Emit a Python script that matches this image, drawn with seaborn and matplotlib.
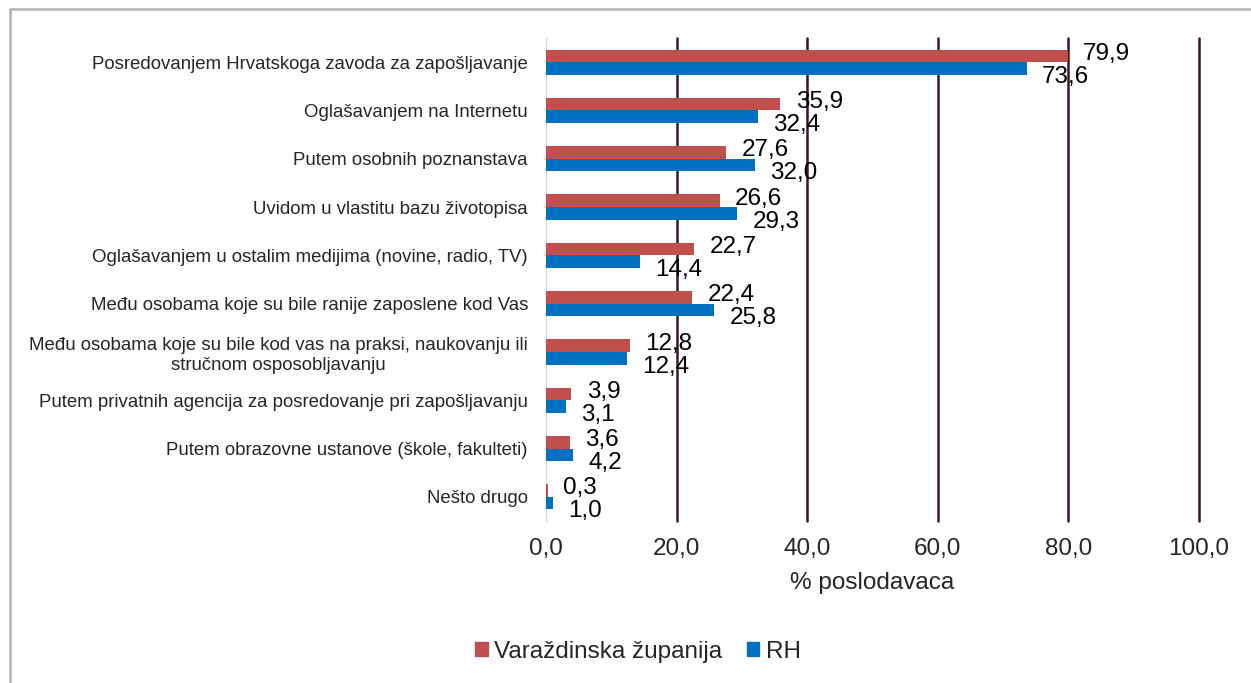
import pandas as pd
import seaborn as sns
import matplotlib.pyplot as plt
from matplotlib.patches import Rectangle, Patch

kategorije = [
    'Posredovanjem Hrvatskoga zavoda za zapošljavanje',
    'Oglašavanjem na Internetu',
    'Putem osobnih poznanstava',
    'Uvidom u vlastitu bazu životopisa',
    'Oglašavanjem u ostalim medijima (novine, radio, TV)',
    'Među osobama koje su bile ranije zaposlene kod Vas',
    'Među osobama koje su bile kod vas na praksi, naukovanju ili\nstručnom osposobljavanju',
    'Putem privatnih agencija za posredovanje pri zapošljavanju',
    'Putem obrazovne ustanove (škole, fakulteti)',
    'Nešto drugo',
]
varazdinska = [79.9, 35.9, 27.6, 26.6, 22.7, 22.4, 12.8, 3.9, 3.6, 0.3]
rh = [73.6, 32.4, 32.0, 29.3, 14.4, 25.8, 12.4, 3.1, 4.2, 1.0]
serije = ['Varaždinska županija', 'RH']
boje = ['#C0504D', '#0070C0']
x_ticks = [0, 20, 40, 60, 80, 100]

df = pd.DataFrame({
    'kategorija': kategorije * 2,
    'vrijednost': varazdinska + rh,
    'serija': [serije[0]] * len(kategorije) + [serije[1]] * len(kategorije),
})

sns.set_style('white')
plt.rcParams['font.family'] = ['Liberation Sans', 'DejaVu Sans']

fig = plt.figure(figsize=(12.51, 6.83), dpi=100)
ax = fig.add_axes([546 / 1251, 1 - 521 / 683, (1199 - 546) / 1251, (521 - 38) / 683])

sns.barplot(data=df, x='vrijednost', y='kategorija', hue='serija', orient='h',
            palette=boje, width=0.52, gap=0, saturation=1, legend=False, ax=ax,
            linewidth=0, zorder=3)

# vertikalne linije mreže
for t in x_ticks[1:]:
    ax.axvline(t, color='#3B1A1A', lw=1.8, zorder=1, clip_on=False)

ax.set_xlim(0, 100)
ax.set_ylim(9.5, -0.5)
ax.set_xticks(x_ticks)
ax.set_xticklabels([f'{t:.1f}'.replace('.', ',') for t in x_ticks], fontsize=17.5)
ax.tick_params(axis='x', length=0, pad=12)
ax.tick_params(axis='y', length=0, pad=13, labelsize=13.4)
for lbl in ax.get_yticklabels():
    lbl.set_multialignment('center')
ax.set_xlabel('% poslodavaca', fontsize=17.5, labelpad=9)
ax.set_ylabel('')

for s in ['top', 'right', 'bottom']:
    ax.spines[s].set_visible(False)
ax.spines['left'].set_color('#D9D9D9')
ax.spines['left'].set_linewidth(1)

# oznake vrijednosti
pomaci = [1.5, -6]
for cont, pom in zip(ax.containers, pomaci):
    for bar in cont:
        w = bar.get_width()
        yc = bar.get_y() + bar.get_height() / 2
        ax.annotate(f'{w:.1f}'.replace('.', ','), (w, yc), xytext=(11, pom),
                    textcoords='offset points', ha='left', va='center',
                    fontsize=17.5, color='black', zorder=5)

handles = [Patch(color=c, label=s) for c, s in zip(boje, serije)]
fig.legend(handles=handles, loc='center', bbox_to_anchor=(638 / 1251, 1 - 652 / 683),
           ncol=2, frameon=False, fontsize=17.5, handlelength=0.5, handleheight=0.5,
           handletextpad=0.25, columnspacing=1.05)

# okvir grafikona
fig.add_artist(Rectangle((10 / 1251, -0.05), 1.2, 1 - 9 / 683 + 0.05,
                         transform=fig.transFigure, fill=False,
                         edgecolor='#B3B3B3', lw=1.8))

plt.savefig('out.png', dpi=100)
plt.close()
